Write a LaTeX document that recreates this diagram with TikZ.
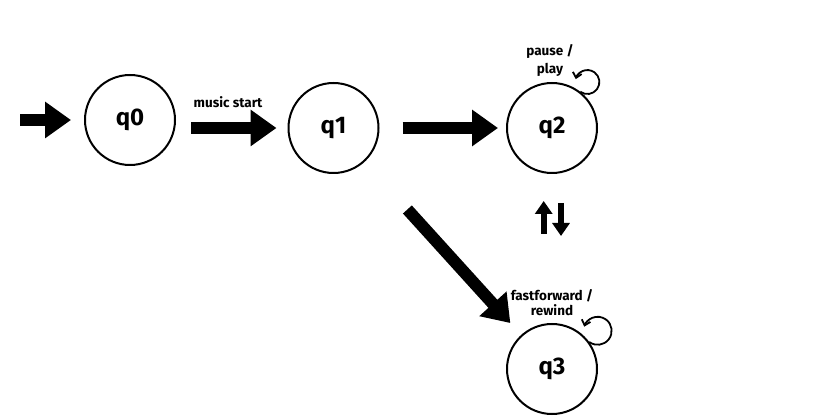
\documentclass[tikz,border=0pt]{standalone}
\usepackage{fontspec}
\setmainfont{Fira Sans}
\usetikzlibrary{arrows.meta}
\begin{document}
\begin{tikzpicture}[x=1pt,y=1pt,
  state/.style={circle,draw=black,line width=2pt,minimum size=90pt,inner sep=0pt,
    font=\fontsize{24}{26}\selectfont\bfseries},
  big/.style={line width=12pt,-{Triangle[width=35pt,length=26pt]}},
  loopline/.style={line width=1.8pt,-{Straight Barb[length=5pt,width=9pt]}},
  lbl/.style={font=\fontsize{13.5}{15}\selectfont\bfseries,align=center,inner sep=0pt},
  tiny/.style={line width=6pt,-{Triangle[width=17pt,length=13pt]}}]
\useasboundingbox (0,0) rectangle (837,417);
\node[state] (q0) at (130,297) {q0};
\node[state] (q1) at (333.5,289) {q1};
\node[state] (q2) at (552,289) {q2};
\node[state] (q3) at (552,48) {q3};
\coordinate (init) at (20,297);
% arrows
\draw[big,shorten >=13pt] (init) -- (q0);
\draw[big,shorten <=15pt,shorten >=11pt] (q0.east |- q1.west) -- (q1.west);
\node[lbl] (lms) at (228,315) {music start};
\draw[big,shorten <=23pt,shorten >=8pt] (q1.east) -- (q2.west);
\draw[big,shorten <=110pt,shorten >=62pt] (q1.center) -- (q3.center);
% self loops
\draw[loopline] (q2.52) arc[start angle=-126,end angle=166,radius=12];
\node[lbl,font=\fontsize{13.5}{18}\selectfont\bfseries] (lpp) at (550,357) {pause /\\play};
\draw[loopline] (q3.36) arc[start angle=-127,end angle=163,radius=14];
\node[lbl] (lff) at (552,114) {fastforward /\\rewind};
% up/down symbol
\coordinate (ua) at (543.7,183);
\coordinate (ub) at (543.7,216);
\coordinate (da) at (561,214);
\coordinate (db) at (561,181);
\draw[tiny] (ua) -- (ub);
\draw[tiny] (da) -- (db);
\end{tikzpicture}
\end{document}
